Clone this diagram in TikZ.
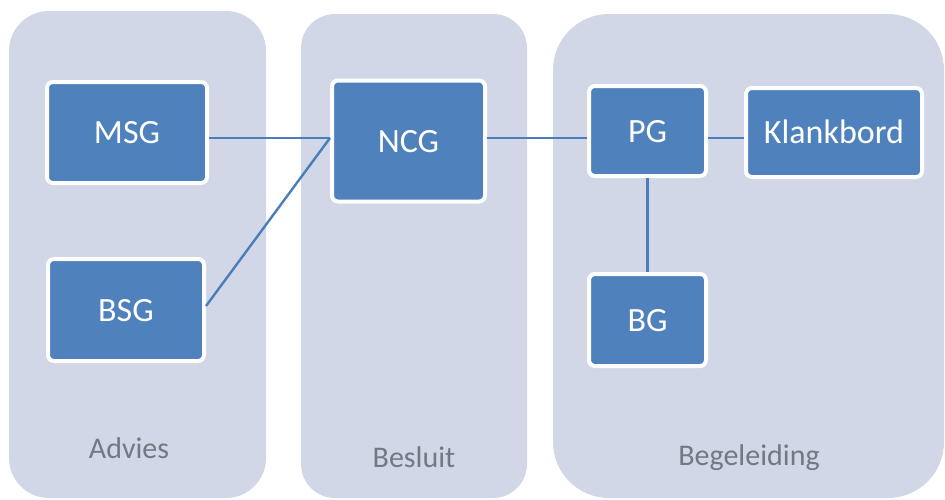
\documentclass[tikz,border=0pt]{standalone}
\usepackage{fontspec}
\setmainfont{Carlito}
\definecolor{panelfill}{HTML}{D1D7E7}
\definecolor{boxfill}{HTML}{4F81BD}
\definecolor{linkcol}{HTML}{4A7EBB}
\definecolor{labelcol}{HTML}{737982}
\tikzset{
  panel/.style={fill=panelfill, draw=none},
  unit/.style={draw=white, line width=4pt, fill=boxfill, rounded corners=6pt,
    inner sep=0pt, text=white, font=\fontsize{34}{40}\selectfont,
    text height=22pt, text depth=0pt},
  link/.style={draw=linkcol, line width=2.4pt},
  grouplabel/.style={anchor=base, text=labelcol, font=\fontsize{30}{36}\selectfont, inner sep=0pt}
}
\begin{document}
\begin{tikzpicture}[x=1pt, y=-1pt]
  \useasboundingbox (0,0) rectangle (945,499);
  % background groups
  \fill[panel, rounded corners=40pt] (9,11) rectangle (266,498);
  \fill[panel, rounded corners=34pt] (301,14) rectangle (527,498);
  \fill[panel, rounded corners=56pt] (553,14) rectangle (944,498);

  % group captions
  \node[grouplabel] (advies) at (129,458) {Advies};
  \node[grouplabel] (besluit) at (414,467) {Besluit};
  \node[grouplabel] (begel) at (749,465) {Begeleiding};

  % units
  \node[unit, minimum width=160pt, minimum height=101pt] (msg) at (127,132.5) {MSG};
  \node[unit, minimum width=156pt, minimum height=102pt] (bsg) at (126,310) {BSG};
  \node[unit, minimum width=153pt, minimum height=121pt] (ncg) at (408.5,141) {NCG};
  \node[unit, minimum width=117pt, minimum height=90pt] (pg) at (647.5,131) {PG};
  \node[unit, minimum width=176pt, minimum height=89pt] (klank) at (834,132.5) {Klankbord};
  \node[unit, minimum width=117pt, minimum height=92pt] (bg) at (647.5,320) {BG};

  % connections
  \coordinate (hub) at ([yshift=3pt]ncg.west);
  \draw[link] (hub -| msg.east) -- (hub);
  \draw[link] ([yshift=4pt]bsg.east) -- (hub);
  \draw[link] ([yshift=3pt]ncg.east) -- ([yshift=3pt]ncg.east -| pg.west);
  \draw[link] ([yshift=3pt]ncg.east -| pg.east) -- ([yshift=3pt]ncg.east -| klank.west);
  \draw[link] (pg.south) -- (bg.north);
\end{tikzpicture}
\end{document}
